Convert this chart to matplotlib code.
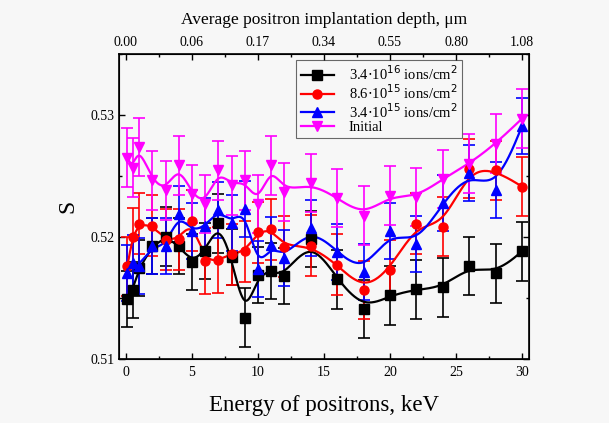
import numpy as np
import matplotlib
matplotlib.use('Agg')
import matplotlib.pyplot as plt
from matplotlib.ticker import MultipleLocator, FixedLocator

# Data
energy = [0.1, 0.5, 1, 2, 3, 4, 5, 6, 7, 8, 9, 10, 11, 12, 14, 16, 18, 20, 22, 24, 26, 28, 30]

s_34e16 = [0.51493, 0.51567, 0.51748, 0.51926, 0.52005, 0.51932, 0.51795, 0.51890, 0.52115, 0.51836,
           0.51342, 0.51693, 0.51721, 0.51685, 0.51986, 0.51655, 0.51414, 0.51523, 0.51573, 0.51589,
           0.51764, 0.51704, 0.51885]
err_34e16 = [0.0023, 0.0023, 0.0023, 0.0023, 0.0024, 0.0023, 0.0023, 0.0023, 0.0024, 0.0023,
             0.0024, 0.0023, 0.0023, 0.0023, 0.0023, 0.0024, 0.0024, 0.0024, 0.0024, 0.0024,
             0.0024, 0.0024, 0.0024]

s_86e15 = [0.51762, 0.52000, 0.52110, 0.52096, 0.51978, 0.51986, 0.52137, 0.51803, 0.51814, 0.51863,
           0.51885, 0.52041, 0.52068, 0.51923, 0.51932, 0.51775, 0.51567, 0.51734, 0.52110, 0.52088,
           0.52562, 0.52548, 0.52416]
err_86e15 = [0.0024, 0.0024, 0.0025, 0.0025, 0.0025, 0.0025, 0.0025, 0.0027, 0.0027, 0.0025,
             0.0025, 0.0025, 0.0025, 0.0025, 0.0025, 0.0025, 0.0024, 0.0024, 0.0025, 0.0024,
             0.0024, 0.0024, 0.0024]

s_34e15 = [0.51704, 0.51786, 0.51767, 0.51926, 0.51926, 0.52192, 0.52049, 0.52090, 0.52225, 0.52118,
           0.52233, 0.51740, 0.51937, 0.51830, 0.52077, 0.51882, 0.51712, 0.52049, 0.51945, 0.52282,
           0.52529, 0.52389, 0.52910]
err_34e15 = [0.0023, 0.0023, 0.0023, 0.0023, 0.0023, 0.0023, 0.0023, 0.0023, 0.0023, 0.0023,
             0.0023, 0.0023, 0.0023, 0.0023, 0.0023, 0.0023, 0.0023, 0.0023, 0.0023, 0.0023,
             0.0023, 0.0023, 0.0023]

s_init = [0.52652, 0.52570, 0.52740, 0.52466, 0.52384, 0.52589, 0.52356, 0.52274, 0.52548, 0.52425,
          0.52466, 0.52274, 0.52589, 0.52370, 0.52444, 0.52323, 0.52178, 0.52342, 0.52329, 0.52479,
          0.52603, 0.52767, 0.52973]
err_init = [0.0024, 0.0024, 0.0024, 0.0024, 0.0024, 0.0024, 0.0024, 0.0024, 0.0024, 0.0024,
            0.0024, 0.0024, 0.0024, 0.0024, 0.0024, 0.0024, 0.0024, 0.0024, 0.0024, 0.0024,
            0.0024, 0.0024, 0.0024]

bottom_ticks = [0, 5, 10, 15, 20, 25, 30]
top_labels = ['0.00', '0.06', '0.17', '0.34', '0.55', '0.80', '1.08']


def bspline(x, y, n=30):
    # clamped uniform cubic B-spline using the points as control points
    p = np.column_stack([x, y])
    p = np.vstack([p[0], p[0], p, p[-1], p[-1]])
    t = np.linspace(0, 1, n)
    b0 = (1 - t) ** 3 / 6
    b1 = (3 * t ** 3 - 6 * t ** 2 + 4) / 6
    b2 = (-3 * t ** 3 + 3 * t ** 2 + 3 * t + 1) / 6
    b3 = t ** 3 / 6
    segs = []
    for i in range(len(p) - 3):
        seg = (np.outer(b0, p[i]) + np.outer(b1, p[i + 1]) +
               np.outer(b2, p[i + 2]) + np.outer(b3, p[i + 3]))
        segs.append(seg)
    c = np.vstack(segs)
    return c[:, 0], c[:, 1]


plt.rcParams['font.family'] = 'Liberation Serif'
bg = '#f7f7f7'
fig = plt.figure(figsize=(6.09, 4.23), dpi=100, facecolor=bg)
ax = fig.add_axes([0.196, 0.1506, 0.672, 0.721], facecolor=bg)

series = [
    (s_34e16, err_34e16, 'black', 's', r'3.4$\cdot$10$^{16}$ ions/cm$^{2}$'),
    (s_86e15, err_86e15, 'red', 'o', r'8.6$\cdot$10$^{15}$ ions/cm$^{2}$'),
    (s_34e15, err_34e15, 'blue', '^', r'3.4$\cdot$10$^{15}$ ions/cm$^{2}$'),
    (s_init, err_init, 'magenta', 'v', 'Initial'),
]

handles = []
for s, e, col, mk, lab in series:
    ax.errorbar(energy, s, yerr=e, fmt='none', ecolor=col, elinewidth=1.2,
                capsize=4, capthick=1.2, zorder=2)
    xs, ys = bspline(energy, s)
    ax.plot(xs, ys, color=col, lw=1.6, zorder=3)
    ax.plot(energy, s, ls='none', marker=mk, color=col, ms=6.5, zorder=4)
    h, = ax.plot([], [], color=col, lw=1.6, marker=mk, ms=6.5, label=lab)
    handles.append(h)

ax.set_xlim(-0.5, 30.5)
ax.set_ylim(0.51, 0.535)
ax.xaxis.set_major_locator(FixedLocator(bottom_ticks))
ax.xaxis.set_minor_locator(MultipleLocator(2.5))
ax.yaxis.set_major_locator(FixedLocator([0.51, 0.52, 0.53]))
ax.yaxis.set_minor_locator(MultipleLocator(0.005))
ax.set_yticklabels(['0.51', '0.52', '0.53'])
ax.tick_params(which='both', direction='in', labelsize=10, right=True)
ax.tick_params(which='major', length=4, width=1)
ax.tick_params(which='minor', length=2.5, width=1)
ax.tick_params(axis='x', pad=5)
for sp in ax.spines.values():
    sp.set_linewidth(1.2)

ax.set_xlabel('Energy of positrons, keV', fontsize=16.5, labelpad=11)
ax.set_ylabel('S', fontsize=17, labelpad=9)

top = ax.twiny()
top.set_xlim(ax.get_xlim())
top.xaxis.set_major_locator(FixedLocator(bottom_ticks))
top.xaxis.set_minor_locator(MultipleLocator(2.5))
top.set_xticklabels(top_labels)
top.tick_params(which='both', direction='in', labelsize=10)
top.tick_params(which='major', length=4, width=1)
top.tick_params(which='minor', length=2.5, width=1)
top.set_xlabel('Average positron implantation depth, \u03bcm', fontsize=12.5, labelpad=9)

leg = ax.legend(handles=handles, loc='upper left', bbox_to_anchor=(0.432, 0.981),
                borderaxespad=0, fontsize=10.5, frameon=True, fancybox=False,
                edgecolor='#444444', handlelength=2.3, handletextpad=1.0,
                borderpad=0.3, labelspacing=0.0)
leg.get_frame().set_linewidth(0.8)
leg.get_frame().set_facecolor(bg)

fig.savefig('out.png', dpi=100, facecolor=bg)
